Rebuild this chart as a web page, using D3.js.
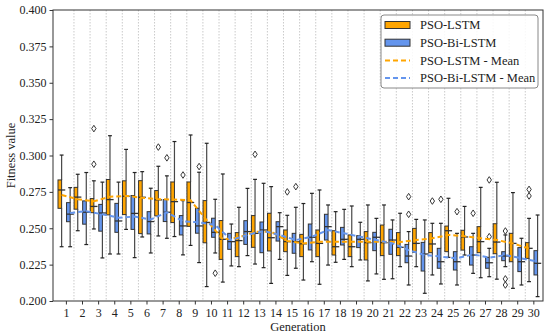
<!DOCTYPE html>
<html>
<head>
<meta charset="utf-8">
<script src="https://cdn.jsdelivr.net/npm/d3@7"></script>
<style>
  body { margin: 0; background: #fff; }
  svg text { font-family: "Liberation Serif", "DejaVu Serif", serif; fill: #222; }
</style>
</head>
<body>
<div id="chart"></div>
<script>
// generation labels
const generations = d3.range(1, 31);
const yTicks = [0.200, 0.225, 0.250, 0.275, 0.300, 0.325, 0.350, 0.375, 0.400];

// PSO-LSTM box stats (whisker low, q1, median, q3, whisker high)
const lstmLow  = [0.2373,0.2483,0.2495,0.2323,0.2492,0.2440,0.2447,0.2443,0.2382,0.2099,0.2130,0.2236,0.2254,0.2121,0.2176,0.2144,0.2115,0.2266,0.2236,0.2138,0.2149,0.2236,0.2236,0.2179,0.2300,0.2316,0.2160,0.2150,0.2087,0.2133];
const lstmQ1   = [0.2637,0.2631,0.2607,0.2592,0.2594,0.2463,0.2585,0.2539,0.2513,0.2400,0.2286,0.2305,0.2369,0.2344,0.2339,0.2305,0.2305,0.2316,0.2305,0.2282,0.2312,0.2312,0.2335,0.2332,0.2339,0.2350,0.2332,0.2325,0.2270,0.2293];
const lstmMed  = [0.2763,0.2714,0.2650,0.2697,0.2720,0.2713,0.2695,0.2683,0.2677,0.2540,0.2424,0.2415,0.2465,0.2435,0.2408,0.2393,0.2396,0.2373,0.2373,0.2401,0.2401,0.2369,0.2396,0.2392,0.2483,0.2440,0.2408,0.2405,0.2396,0.2362];
const lstmQ3   = [0.2832,0.2781,0.2704,0.2835,0.2826,0.2827,0.2759,0.2818,0.2818,0.2690,0.2553,0.2470,0.2587,0.2603,0.2488,0.2458,0.2488,0.2483,0.2454,0.2477,0.2522,0.2470,0.2499,0.2470,0.2515,0.2486,0.2511,0.2531,0.2465,0.2401];
const lstmHigh = [0.3003,0.2871,0.2826,0.3136,0.3042,0.2889,0.2926,0.3096,0.3141,0.3084,0.2873,0.2644,0.2836,0.2786,0.2589,0.2670,0.2763,0.2614,0.2653,0.2660,0.2660,0.2603,0.2561,0.2534,0.2706,0.2650,0.2781,0.2816,0.2745,0.2568];
const lstmMean = [0.2729,0.2700,0.2685,0.2717,0.2722,0.2710,0.2700,0.2697,0.2692,0.2555,0.2424,0.2437,0.2476,0.2476,0.2412,0.2396,0.2408,0.2408,0.2408,0.2408,0.2408,0.2405,0.2419,0.2431,0.2454,0.2445,0.2431,0.2419,0.2396,0.2360];
const lstmFliers = [[3,0.3185],[3,0.2940],[7,0.3058],[13,0.3008],[15,0.2750],[24,0.2687],[30,0.2767],[30,0.2722]];

// PSO-Bi-LSTM box stats
const biLow  = [0.2373,0.2388,0.2296,0.2323,0.2298,0.2330,0.2431,0.2317,0.2264,0.2330,0.2241,0.2312,0.2229,0.2286,0.2225,0.2270,0.2247,0.2286,0.2282,0.2186,0.2153,0.2110,0.2053,0.2117,0.2110,0.2190,0.2167,0.2236,0.2110,0.2030];
const biQ1   = [0.2545,0.2528,0.2480,0.2472,0.2492,0.2461,0.2546,0.2454,0.2466,0.2438,0.2355,0.2389,0.2332,0.2412,0.2328,0.2351,0.2419,0.2385,0.2367,0.2346,0.2321,0.2263,0.2206,0.2225,0.2213,0.2247,0.2225,0.2277,0.2202,0.2179];
const biMed  = [0.2597,0.2610,0.2605,0.2550,0.2602,0.2546,0.2610,0.2516,0.2516,0.2472,0.2408,0.2477,0.2488,0.2511,0.2408,0.2438,0.2511,0.2424,0.2424,0.2438,0.2419,0.2309,0.2323,0.2270,0.2270,0.2316,0.2263,0.2309,0.2270,0.2259];
const biQ3   = [0.2676,0.2688,0.2664,0.2671,0.2725,0.2614,0.2697,0.2587,0.2637,0.2569,0.2465,0.2552,0.2543,0.2545,0.2465,0.2529,0.2596,0.2506,0.2449,0.2472,0.2493,0.2389,0.2403,0.2362,0.2339,0.2373,0.2300,0.2339,0.2367,0.2346];
const biHigh = [0.2779,0.2883,0.2817,0.2817,0.2883,0.2775,0.2860,0.2690,0.2885,0.2699,0.2529,0.2774,0.2809,0.2607,0.2644,0.2740,0.2660,0.2630,0.2541,0.2568,0.2557,0.2477,0.2557,0.2534,0.2465,0.2465,0.2362,0.2454,0.2431,0.2591];
const biMean = [0.2605,0.2617,0.2596,0.2573,0.2580,0.2560,0.2610,0.2548,0.2540,0.2522,0.2419,0.2454,0.2481,0.2454,0.2419,0.2442,0.2488,0.2465,0.2442,0.2419,0.2396,0.2350,0.2316,0.2305,0.2293,0.2321,0.2298,0.2316,0.2293,0.2270];
const biFliers = [[7,0.2984],[8,0.2866],[9,0.2924],[10,0.2191],[15,0.2786],[22,0.2717],[22,0.2596],[24,0.2699],[25,0.2614],[26,0.2603],[27,0.2832],[27,0.2442],[28,0.2481],[28,0.2152],[28,0.2110]];

const orange = "#FFA500";
const blue = "#6495ED";

const W = 550, H = 336;
const svg = d3.select("#chart").append("svg")
  .attr("width", W).attr("height", H);

const x = d3.scaleLinear().domain([0.2, 30.6]).range([53, 543]);
const y = d3.scaleLinear().domain([0.2, 0.4]).range([301, 10]);

// dotted separators between generations
svg.append("g").selectAll("line")
  .data(d3.range(1.5, 30, 1))
  .enter().append("line")
  .attr("x1", d => x(d)).attr("x2", d => x(d))
  .attr("y1", y(0.4)).attr("y2", y(0.2))
  .attr("stroke", "#bdbdbd")
  .attr("stroke-width", 0.8)
  .attr("stroke-dasharray", "1.5,1.5");

const boxHalf = 0.225, capHalf = 0.12, offset = 0.265;

function drawBoxes(low, q1, med, q3, high, fliers, color, shift) {
  const g = svg.append("g");
  const rows = generations.map((gen, i) => ({
    pos: gen + shift, lo: low[i], q1: q1[i], med: med[i], q3: q3[i], hi: high[i]
  }));
  const b = g.selectAll("g.box").data(rows).enter().append("g");
  // whiskers
  b.append("line")
    .attr("x1", d => x(d.pos)).attr("x2", d => x(d.pos))
    .attr("y1", d => y(d.hi)).attr("y2", d => y(d.q3))
    .attr("stroke", "#484848").attr("stroke-width", 1.2);
  b.append("line")
    .attr("x1", d => x(d.pos)).attr("x2", d => x(d.pos))
    .attr("y1", d => y(d.q1)).attr("y2", d => y(d.lo))
    .attr("stroke", "#484848").attr("stroke-width", 1.2);
  // caps
  ["hi", "lo"].forEach(k => {
    b.append("line")
      .attr("x1", d => x(d.pos - capHalf)).attr("x2", d => x(d.pos + capHalf))
      .attr("y1", d => y(d[k])).attr("y2", d => y(d[k]))
      .attr("stroke", "#222").attr("stroke-width", 1.2);
  });
  // box
  b.append("rect")
    .attr("x", d => x(d.pos - boxHalf))
    .attr("width", x(boxHalf) - x(0))
    .attr("y", d => y(d.q3))
    .attr("height", d => y(d.q1) - y(d.q3))
    .attr("fill", color)
    .attr("stroke", "#333").attr("stroke-width", 1);
  // median
  b.append("line")
    .attr("x1", d => x(d.pos - boxHalf)).attr("x2", d => x(d.pos + boxHalf))
    .attr("y1", d => y(d.med)).attr("y2", d => y(d.med))
    .attr("stroke", "#333").attr("stroke-width", 1.3);
  // fliers (open diamonds)
  g.selectAll("path.flier").data(fliers).enter().append("path")
    .attr("d", d => {
      const cx = x(d[0] + shift), cy = y(d[1]);
      return `M${cx},${cy - 3.3}L${cx + 2.2},${cy}L${cx},${cy + 3.3}L${cx - 2.2},${cy}Z`;
    })
    .attr("fill", "none").attr("stroke", "#222").attr("stroke-width", 0.9);
}

drawBoxes(lstmLow, lstmQ1, lstmMed, lstmQ3, lstmHigh, lstmFliers, orange, -offset);
drawBoxes(biLow, biQ1, biMed, biQ3, biHigh, biFliers, blue, offset);

// mean lines
const meanLine = shift => d3.line()
  .x((d, i) => x(generations[i] + shift))
  .y(d => y(d));

svg.append("path").datum(lstmMean)
  .attr("d", meanLine(-offset))
  .attr("fill", "none").attr("stroke", orange)
  .attr("stroke-width", 2).attr("stroke-dasharray", "5,3");
svg.append("path").datum(biMean)
  .attr("d", meanLine(offset))
  .attr("fill", "none").attr("stroke", blue)
  .attr("stroke-width", 2).attr("stroke-dasharray", "5,3");

// frame
svg.append("rect")
  .attr("x", 53).attr("y", 10)
  .attr("width", 490).attr("height", 291)
  .attr("fill", "none").attr("stroke", "#333").attr("stroke-width", 1);

// axes
const yAxis = d3.axisLeft(y).tickValues(yTicks).tickFormat(d3.format(".3f")).tickSize(3.5).tickPadding(3);
const xAxis = d3.axisBottom(x).tickValues(generations).tickFormat(d3.format("d")).tickSize(3.5).tickPadding(4);

const gy = svg.append("g").attr("transform", "translate(53,0)").call(yAxis);
const gx = svg.append("g").attr("transform", "translate(0,301)").call(xAxis);
[gx, gy].forEach(g => {
  g.select(".domain").remove();
  g.selectAll("line").attr("stroke", "#333");
  g.selectAll("text").attr("font-size", "12px").attr("fill", "#222")
    .style("font-family", "'Liberation Serif', serif");
});

svg.append("text")
  .attr("x", 298).attr("y", 331)
  .attr("text-anchor", "middle")
  .attr("font-size", "12.5px")
  .text("Generation");

svg.append("text")
  .attr("transform", "translate(15,155.5) rotate(-90)")
  .attr("text-anchor", "middle")
  .attr("font-size", "12.5px")
  .text("Fitness value");

// legend
const legend = svg.append("g");
legend.append("rect")
  .attr("x", 381).attr("y", 15).attr("width", 157).attr("height", 73)
  .attr("rx", 3)
  .attr("fill", "#fff").attr("fill-opacity", 0.85)
  .attr("stroke", "#888").attr("stroke-width", 1);

const legendItems = [
  { label: "PSO-LSTM", color: orange, type: "box" },
  { label: "PSO-Bi-LSTM", color: blue, type: "box" },
  { label: "PSO-LSTM - Mean", color: orange, type: "line" },
  { label: "PSO-Bi-LSTM - Mean", color: blue, type: "line" }
];
legendItems.forEach((d, i) => {
  const cy = 25 + i * 17.7;
  if (d.type === "box") {
    legend.append("rect")
      .attr("x", 385).attr("y", cy - 3.5).attr("width", 25).attr("height", 7)
      .attr("fill", d.color).attr("stroke", "#333").attr("stroke-width", 1);
  } else {
    legend.append("line")
      .attr("x1", 385).attr("x2", 410).attr("y1", cy).attr("y2", cy)
      .attr("stroke", d.color).attr("stroke-width", 2)
      .attr("stroke-dasharray", "5,3");
  }
  legend.append("text")
    .attr("x", 420).attr("y", cy + 4.3)
    .attr("font-size", "12.5px")
    .text(d.label);
});
</script>
</body>
</html>
